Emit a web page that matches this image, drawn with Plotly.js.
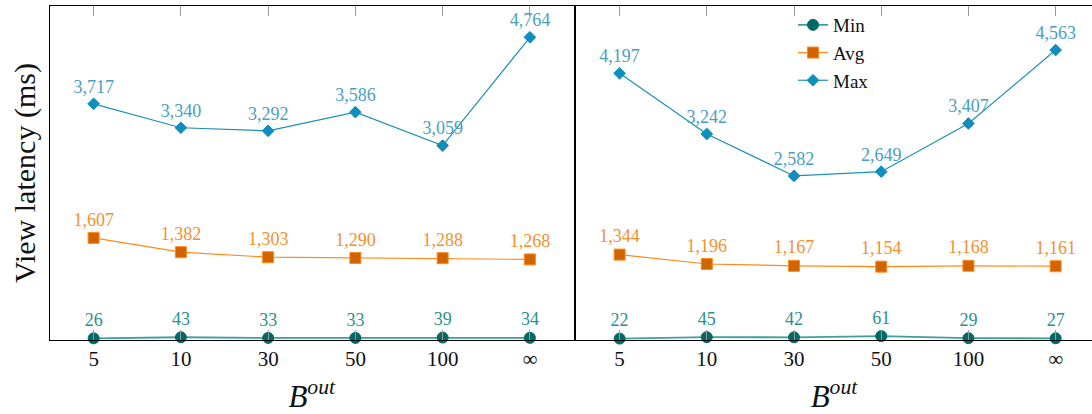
<!DOCTYPE html>
<html>
<head>
<meta charset="utf-8">
<script src="https://cdn.plot.ly/plotly-3.0.1.min.js"></script>
<style>html,body{margin:0;padding:0;background:#fff}#chart{width:1092px;height:414px}</style>
</head>
<body>
<div id="chart"></div>
<script>
const categories = ['5', '10', '30', '50', '100', '∞'];
const seriesNames = ['Min', 'Avg', 'Max'];

// Left panel
const leftMin = [26, 43, 33, 33, 39, 34];
const leftAvg = [1607, 1382, 1303, 1290, 1288, 1268];
const leftMax = [3717, 3340, 3292, 3586, 3059, 4764];

// Right panel
const rightMin = [22, 45, 42, 61, 29, 27];
const rightAvg = [1344, 1196, 1167, 1154, 1168, 1161];
const rightMax = [4197, 3242, 2582, 2649, 3407, 4563];

const FONT = 'Liberation Serif, DejaVu Serif, serif';
const styles = {
  Min: {line: '#3f9f9c', lw: 1.8, mfill: '#006b66', mline: '#006b66', symbol: 'circle', size: 11, label: '#2a918d'},
  Avg: {line: '#ff8a1a', lw: 1.2, mfill: '#d06400', mline: '#ff8a1a', symbol: 'square', size: 11, label: '#f39030'},
  Max: {line: '#1e8fb5', lw: 1.2, mfill: '#0e8fbd', mline: '#0e8fbd', symbol: 'diamond', size: 9, label: '#4aa0c2'}
};

function mk(name, vals, xa, ya, legend) {
  const s = styles[name];
  return {
    type: 'scatter', mode: 'lines+markers+text',
    x: categories, y: vals, name: name,
    xaxis: xa, yaxis: ya, showlegend: legend,
    line: {color: s.line, width: s.lw},
    marker: {symbol: s.symbol, size: s.size, color: s.mfill, line: {color: s.mline, width: 1}},
    texttemplate: '%{y:,}', textposition: 'top center',
    textfont: {family: FONT, size: 18, color: s.label},
    cliponaxis: false, hoverinfo: 'skip'
  };
}

const data = [
  mk('Min', leftMin, 'x', 'y', false),
  mk('Avg', leftAvg, 'x', 'y', false),
  mk('Max', leftMax, 'x', 'y', false),
  mk('Min', rightMin, 'x2', 'y2', true),
  mk('Avg', rightAvg, 'x2', 'y2', true),
  mk('Max', rightMax, 'x2', 'y2', true)
];

const W = 1042;
const xCommon = {
  type: 'category', showline: true, linecolor: '#000', linewidth: 1,
  mirror: 'ticks', ticks: 'inside', ticklen: 10, tickcolor: '#999', tickwidth: 1,
  showgrid: false, zeroline: false,
  tickfont: {family: FONT, size: 21, color: '#111'},
  title: {text: '<i>B</i><sup><i>out</i></sup>', font: {family: FONT, size: 31, color: '#111'}, standoff: 19}
};
const yCommon = {
  range: [0, 5256], showline: true, linecolor: '#000', linewidth: 1,
  ticks: '', showticklabels: false, showgrid: false, zeroline: false
};

const layout = {
  width: 1092, height: 414,
  margin: {l: 50, r: 0, t: 6, b: 74},
  paper_bgcolor: '#fff', plot_bgcolor: '#fff',
  font: {family: FONT},
  xaxis: Object.assign({}, xCommon, {domain: [0, 523.5 / W], range: [-0.5, 5.5], anchor: 'y'}),
  xaxis2: Object.assign({}, xCommon, {domain: [526 / W, 1], range: [-0.5, 5.417], anchor: 'y2'}),
  yaxis: Object.assign({}, yCommon, {mirror: true, anchor: 'x',
    title: {text: 'View latency (ms)', font: {family: FONT, size: 30, color: '#111'}, standoff: 4}}),
  yaxis2: Object.assign({}, yCommon, {mirror: false, anchor: 'x2'}),
  showlegend: true,
  legend: {x: (793 - 50) / W, y: 1.0, xanchor: 'left', yanchor: 'top',
    bgcolor: 'rgba(0,0,0,0)', font: {family: FONT, size: 19, color: '#111'},
    tracegroupgap: 0, itemwidth: 30}
};

Plotly.newPlot('chart', data, layout, {displayModeBar: false, staticPlot: true});
</script>
</body>
</html>
